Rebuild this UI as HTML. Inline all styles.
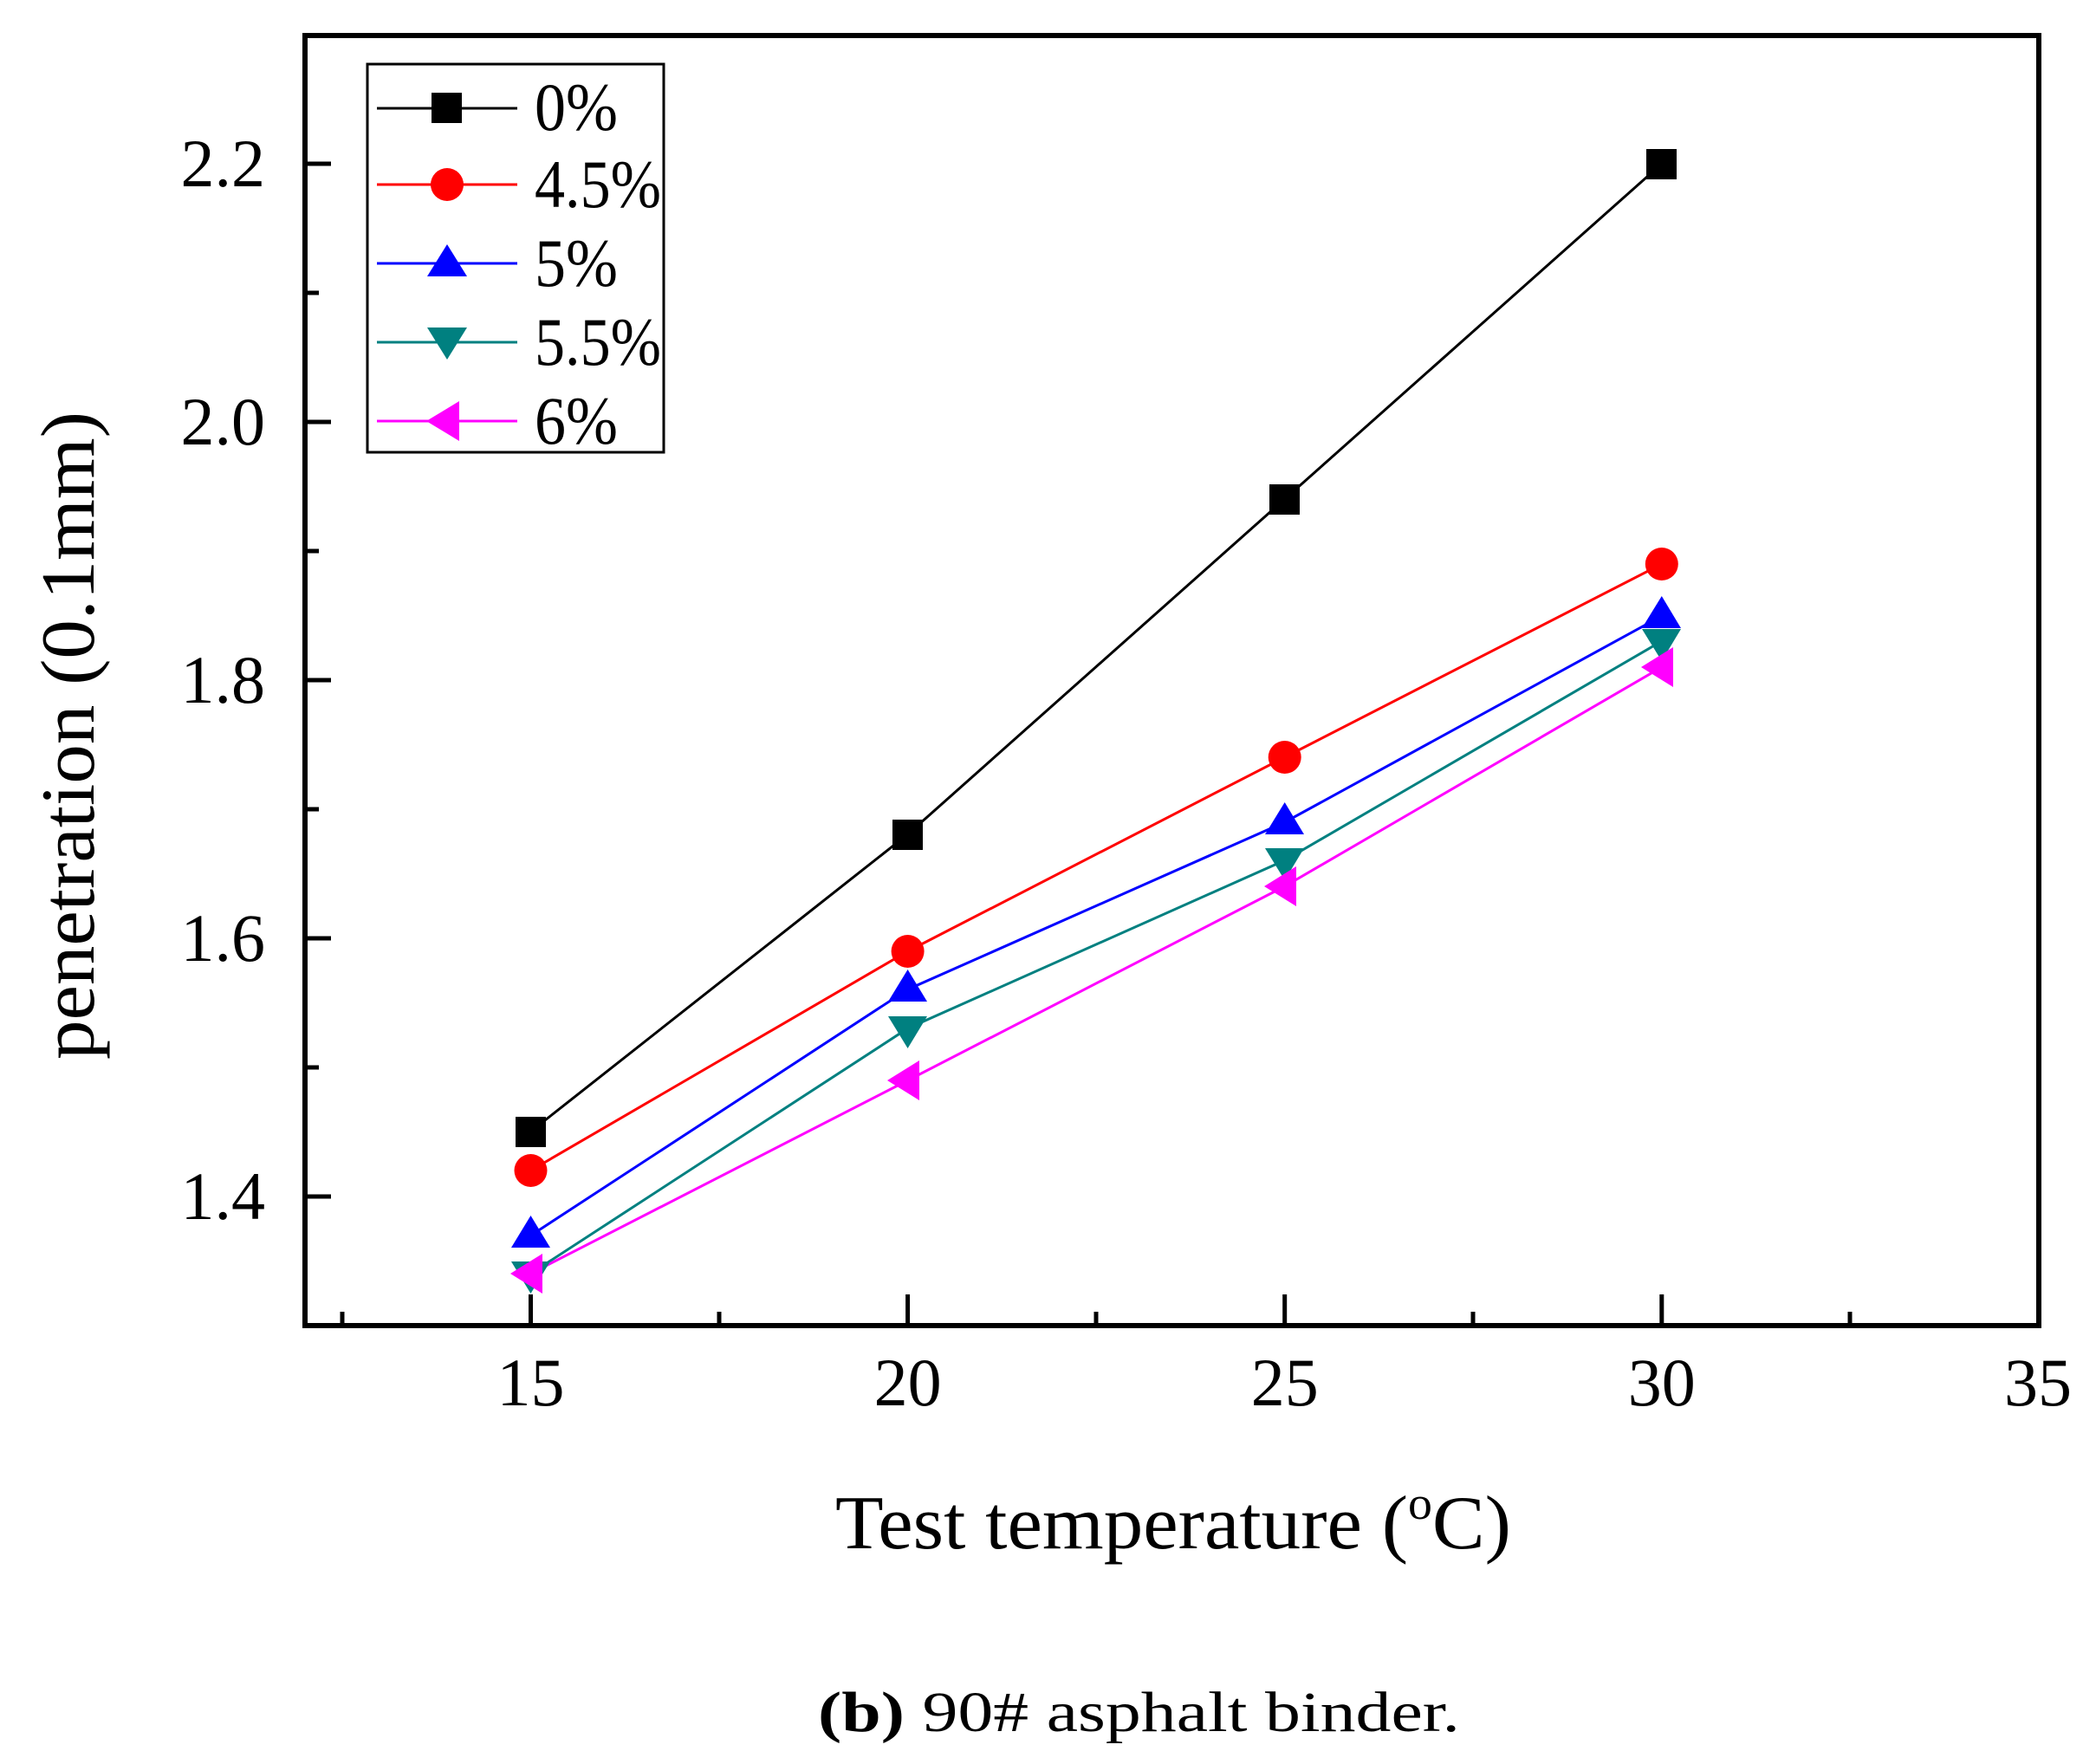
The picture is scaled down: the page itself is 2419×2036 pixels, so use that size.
<!DOCTYPE html>
<html><head><meta charset="utf-8"><style>html,body{margin:0;padding:0;background:#fff}svg{display:block}svg text{font-family:"Liberation Serif","Times New Roman",Times,serif}</style></head>
<body>
<svg width="2419" height="2036" viewBox="0 0 2419 2036" xmlns="http://www.w3.org/2000/svg">
<rect width="2419" height="2036" fill="#fff"/>
<g stroke="#000" stroke-width="5">
<line x1="612.5" y1="1530" x2="612.5" y2="1494"/>
<line x1="1047.6" y1="1530" x2="1047.6" y2="1494"/>
<line x1="1482.7" y1="1530" x2="1482.7" y2="1494"/>
<line x1="1917.8" y1="1530" x2="1917.8" y2="1494"/>
<line x1="395" y1="1530" x2="395" y2="1514"/>
<line x1="830" y1="1530" x2="830" y2="1514"/>
<line x1="1265" y1="1530" x2="1265" y2="1514"/>
<line x1="1700" y1="1530" x2="1700" y2="1514"/>
<line x1="2135" y1="1530" x2="2135" y2="1514"/>
<line x1="352" y1="189" x2="382" y2="189"/>
<line x1="352" y1="487" x2="382" y2="487"/>
<line x1="352" y1="785" x2="382" y2="785"/>
<line x1="352" y1="1083" x2="382" y2="1083"/>
<line x1="352" y1="1381" x2="382" y2="1381"/>
<line x1="352" y1="338" x2="368" y2="338"/>
<line x1="352" y1="636" x2="368" y2="636"/>
<line x1="352" y1="934" x2="368" y2="934"/>
<line x1="352" y1="1232" x2="368" y2="1232"/>
</g>
<rect x="352" y="41" width="2001" height="1489" fill="none" stroke="#000" stroke-width="6"/>
<g font-size="78" text-anchor="middle">
<text x="612.5" y="1622">15</text><text x="1047.6" y="1622">20</text><text x="1482.7" y="1622">25</text><text x="1917.8" y="1622">30</text><text x="2352" y="1622">35</text>
</g>
<g font-size="78" text-anchor="end">
<text x="306" y="215">2.2</text><text x="306" y="513">2.0</text><text x="306" y="811">1.8</text><text x="306" y="1109">1.6</text><text x="306" y="1407">1.4</text>
</g>
<text transform="translate(108,849) rotate(-90)" font-size="88" text-anchor="middle" textLength="748" lengthAdjust="spacingAndGlyphs">penetration (0.1mm)</text>
<text x="964" y="1787" font-size="88" textLength="780" lengthAdjust="spacingAndGlyphs">Test temperature (<tspan font-size="54" dy="-34">o</tspan><tspan dy="34">C)</tspan></text>
<text x="944" y="1998" font-size="66" textLength="741" lengthAdjust="spacingAndGlyphs"><tspan font-weight="bold">(b)</tspan> 90# asphalt binder.</text>
<g fill="none" stroke-width="3">
<polyline stroke="#000" points="612.5,1306 1047.6,963 1482.7,576 1917.8,189"/>
<polyline stroke="#f00" points="612.5,1351 1047.6,1098 1482.7,874 1917.8,651"/>
<polyline stroke="#00f" points="612.5,1426 1047.6,1142 1482.7,949 1917.8,711"/>
<polyline stroke="#008080" points="612.5,1470 1047.6,1187 1482.7,993 1917.8,740"/>
<polyline stroke="#f0f" points="612.5,1470 1047.6,1247 1482.7,1023 1917.8,770"/>
</g>
<g fill="#000">
<rect x="595" y="1289" width="35" height="35"/><rect x="1030" y="946" width="35" height="35"/><rect x="1465" y="559" width="35" height="35"/><rect x="1900" y="172" width="35" height="35"/>
</g>
<g fill="#f00">
<circle cx="612.5" cy="1351" r="19"/><circle cx="1047.6" cy="1098" r="19"/><circle cx="1482.7" cy="874" r="19"/><circle cx="1917.8" cy="651" r="19"/>
</g>
<g fill="#00f">
<polygon points="612.5,1403 590,1440 635,1440"/><polygon points="1047.6,1119 1025,1156 1070,1156"/><polygon points="1482.7,926 1460,963 1505,963"/><polygon points="1917.8,688 1895,725 1940,725"/>
</g>
<g fill="#008080">
<polygon points="612.5,1493 590,1456 635,1456"/><polygon points="1047.6,1210 1025,1173 1070,1173"/><polygon points="1482.7,1016 1460,979 1505,979"/><polygon points="1917.8,763 1895,726 1940,726"/>
</g>
<g fill="#f0f">
<polygon points="589,1470 626,1447 626,1493"/><polygon points="1024,1247 1061,1224 1061,1270"/><polygon points="1459,1023 1496,1000 1496,1046"/><polygon points="1894,770 1931,747 1931,793"/>
</g>
<rect x="424" y="74" width="342" height="448" fill="#fff" stroke="#000" stroke-width="3"/>
<g stroke-width="3">
<line x1="435" y1="125" x2="597" y2="125" stroke="#000"/>
<line x1="435" y1="213" x2="597" y2="213" stroke="#f00"/>
<line x1="435" y1="304" x2="597" y2="304" stroke="#00f"/>
<line x1="435" y1="395" x2="597" y2="395" stroke="#008080"/>
<line x1="435" y1="486" x2="597" y2="486" stroke="#f0f"/>
</g>
<rect x="498" y="107" width="35" height="35" fill="#000"/>
<circle cx="516" cy="213" r="19" fill="#f00"/>
<polygon points="516,282 493,319 539,319" fill="#00f"/>
<polygon points="516,415 493,378 539,378" fill="#008080"/>
<polygon points="492,486 530,463 530,509" fill="#f0f"/>
<g font-size="78">
<text x="617" y="150" textLength="96" lengthAdjust="spacingAndGlyphs">0%</text>
<text x="617" y="239" textLength="146" lengthAdjust="spacingAndGlyphs">4.5%</text>
<text x="617" y="330" textLength="96" lengthAdjust="spacingAndGlyphs">5%</text>
<text x="617" y="421" textLength="146" lengthAdjust="spacingAndGlyphs">5.5%</text>
<text x="617" y="512" textLength="96" lengthAdjust="spacingAndGlyphs">6%</text>
</g>
</svg>
</body></html>
